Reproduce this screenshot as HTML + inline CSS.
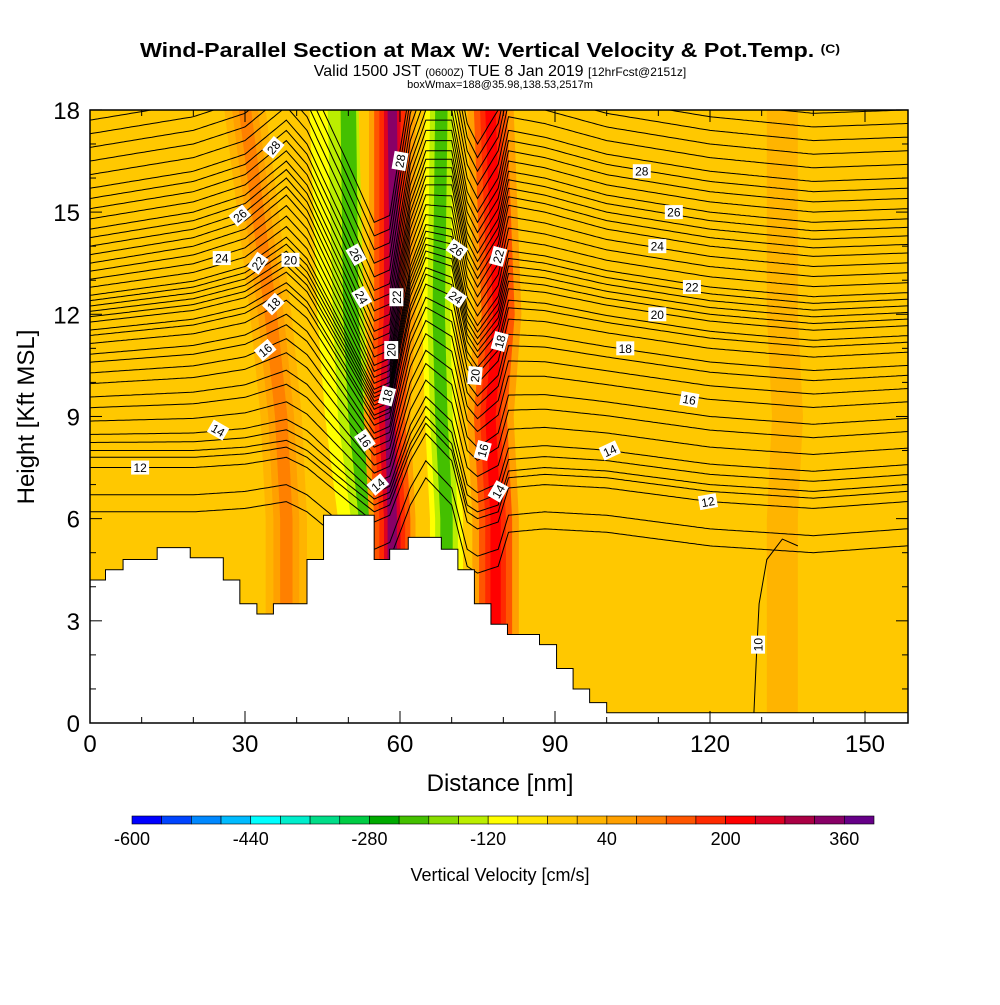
<!DOCTYPE html>
<html><head><meta charset="utf-8"><style>
body{margin:0;background:#fff;}
svg text{font-family:"Liberation Sans",Arial,sans-serif;}
</style></head><body>
<svg id="chart" width="1000" height="1000" viewBox="0 0 1000 1000" xmlns="http://www.w3.org/2000/svg">
<rect width="1000" height="1000" fill="#fff"/>
<text x="490" y="57" text-anchor="middle" font-size="20" font-weight="bold" textLength="700" lengthAdjust="spacingAndGlyphs">Wind-Parallel Section at Max W: Vertical Velocity &amp; Pot.Temp. <tspan font-size="12" dy="-4">(C)</tspan></text>
<text x="500" y="76" text-anchor="middle" font-size="16">Valid 1500 JST <tspan font-size="11">(0600Z)</tspan> TUE 8 Jan 2019 <tspan font-size="12">[12hrFcst@2151z]</tspan></text>
<text x="500" y="88" text-anchor="middle" font-size="11">boxWmax=188@35.98,138.53,2517m</text>
<defs><clipPath id="pc"><rect x="90" y="110" width="818" height="613"/></clipPath></defs>
<g id="plot" clip-path="url(#pc)"></g>
<g id="axes"></g>
<g id="cbar"></g>
<text x="500" y="791" text-anchor="middle" font-size="24">Distance [nm]</text>
<text transform="translate(34,417) rotate(-90)" text-anchor="middle" font-size="24">Height [Kft MSL]</text>
<text x="500" y="881" text-anchor="middle" font-size="18">Vertical Velocity [cm/s]</text>
</svg>
<script>
const NS="http://www.w3.org/2000/svg";
const X=d=>90+d*5.1667, Y=h=>723-h*34.06;
const terrainX=[0,3,6.4,13,19.4,25.8,29,32.3,35.5,42,45.2,55,58,61.6,68,71.2,74.4,77.6,80.8,87,90.3,93.5,96.7,100];
const terrainH=[4.2,4.5,4.8,5.15,4.85,4.2,3.5,3.2,3.5,4.8,6.1,4.8,5.1,5.45,5.1,4.5,3.5,2.9,2.6,2.3,1.6,1.0,0.6,0.3];
const thetaLevels=[11,11.5,12,12.5,13,13.5,14,14.5,15,15.5,16,16.5,17,17.5,18,18.5,19,19.5,20,20.5,21,21.5,22,22.5,23,23.5,24,24.5,25,25.5,26,26.5,27,27.5,28,28.5,29,29.5,30,30.5];
const thetaHeights=[5.2,5.7,6.5,6.8,7.0,7.3,7.6,8.1,8.6,9.0,9.5,9.9,10.3,10.6,11.0,11.3,11.5,11.8,12.0,12.2,12.4,12.6,12.8,13.1,13.4,13.7,14.0,14.25,14.5,14.75,15.0,15.3,15.6,15.9,16.2,16.6,17.0,17.4,17.8,18.2];
const dispX=[0,20,30,38,42,50,55,58,62,65,70,73,75,79,81,88,100,120,140,158];
const dispLow=[1.0,1.0,1.1,1.3,1.0,0.0,-0.6,-0.4,1.2,2.0,1.2,-0.6,-0.8,-0.6,0.4,0.5,0.4,0,-0.2,0];
const dispHigh=[-0.5,0,0.5,1.5,0.8,-1.8,-3.5,-3.3,0.5,1.8,1.8,-0.6,-1.2,-0.2,1.2,1.0,0.5,0,-0.3,-0.2];
const c10X=[128.5,129,129.5,131,134,137];
const c10H=[0.3,2,3.5,4.8,5.4,5.2];
const bandHeights=[18,12,9,6];
const bands=[
 {c:[30,35,37,38],w:4,v:20},{c:[30,35,37,38],w:2.5,v:60},{c:[30,35,37,38],w:1.2,v:100},
 {c:[45,47,49,51],w:6,v:-40},{c:[47,48.5,50,52.5],w:4.5,v:-120},{c:[49,50,51,53.5],w:3,v:-160},{c:[50,50.5,51.5,53.5],w:1.5,v:-240},
 {c:[58.5,58.5,57.5,58.5],w:4.5,v:40},{c:[58.5,58.5,57.5,58.5],w:3.5,v:120},{c:[58.5,58.5,57.5,58.5],w:2.5,v:180},{c:[58.5,58.5,57.5,58.5],w:1.6,v:260},{c:[58.5,59,58,58.5],w:0.9,v:340},
 {c:[68,67.5,68,69],w:4.5,v:-40},{c:[68,67.5,68,69],w:3.2,v:-120},{c:[68,67.5,68,69],w:2.2,v:-160},{c:[68,67.5,68,69],w:1.2,v:-240},
 {c:[77.5,79,77.5,78.5],w:4.5,v:40},{c:[77.5,79,77.5,78.5],w:3.2,v:120},{c:[77.5,79,77.5,78.5],w:2,v:180},{c:[77.5,79,77.5,78.5],w:1,v:220},
 {c:[88,88,88,89],w:3,v:-40},
 {c:[134,134,135,134],w:3,v:20}
];
const cbColors=["#0000ff","#0044ff","#0088ff","#00bbff","#00ffff","#00eecc","#00dd88","#00cc44","#00aa00","#44c000","#88dd00","#bbee00","#ffff00","#ffe600","#ffc800","#ffb400","#ffa000","#ff8000","#ff5500","#ff2a00","#ff0000","#dd0022","#aa0044","#880066","#660088"];
const cbTicks=[-600,-440,-280,-120,40,200,360];
const labelPos=[[35.5,16.9,"28",-50],[29,14.9,"26",-40],[25.5,13.65,"24",0],[32.5,13.5,"22",-55],[38.8,13.6,"20",0],[35.5,12.3,"18",-45],[33.9,10.95,"16",-40],[24.8,8.6,"14",30],[9.7,7.5,"12",0],
[51.5,13.75,"26",60],[52.6,12.5,"24",60],[53.2,8.3,"16",55],[55.7,7.0,"14",-40],[60,16.5,"28",-80],[59.3,12.5,"22",-90],[58.3,10.95,"20",-90],[57.5,9.6,"18",-75],
[71,13.9,"26",35],[70.8,12.5,"24",35],[79,13.7,"22",-75],[79.3,11.2,"18",-75],[74.5,10.2,"20",-85],[76,8.0,"16",-75],[79,6.8,"14",-60],
[106.8,16.2,"28",0],[113,15.0,"26",0],[109.8,14.0,"24",0],[116.5,12.8,"22",0],[109.8,12.0,"20",0],[103.6,11.0,"18",0],[116,9.5,"16",10],[100.6,8.0,"14",-25],[119.6,6.5,"12",-10],[129.3,2.3,"10",-90]];
function mk(t,a,p){const e=document.createElementNS(NS,t);for(const k in a)e.setAttribute(k,a[k]);p.appendChild(e);return e;}
function interp(xs,ys,x){if(x<=xs[0])return ys[0];for(let i=1;i<xs.length;i++){if(x<=xs[i]){const t=(x-xs[i-1])/(xs[i]-xs[i-1]);return ys[i-1]+t*(ys[i]-ys[i-1]);}}return ys[ys.length-1];}
function colorOf(v){let i=Math.floor((v+600)/40);i=Math.max(0,Math.min(24,i));return cbColors[i];}
const plot=document.getElementById('plot');
let bg=mk('rect',{x:90,y:110,width:818,height:613,fill:"#ffc800"},plot);


bands.forEach((b,bi)=>{
 const hs=[19,...bandHeights,0];const cs=[b.c[0],...b.c,b.c[b.c.length-1]];
 let L=[],R=[];hs.forEach((h,i)=>{L.push(X(cs[i]-b.w)+","+Y(h));R.unshift(X(cs[i]+b.w)+","+Y(h));});
 const p=mk('polygon',{points:L.concat(R).join(" "),fill:colorOf(b.v)},plot);
 
 
});
thetaLevels.forEach((th,i)=>{
 const base=thetaHeights[i];let pts=[];
 for(let d=0;d<=158.5;d+=0.5){const w=Math.max(0,Math.min(1,(base-7)/7));const dh=interp(dispX,dispLow,d)*(1-w)+interp(dispX,dispHigh,d)*w;pts.push(X(d).toFixed(1)+","+Y(base+dh).toFixed(1));}
 const pl=mk('polyline',{points:pts.join(" "),fill:"none",stroke:"#000","stroke-width":1},plot);
 
 
});
{const pl=mk('polyline',{points:c10X.map((d,i)=>X(d)+","+Y(c10H[i])).join(" "),fill:"none",stroke:"#000","stroke-width":1},plot);

}
{let pts=[X(0)+","+Y(0)];terrainX.forEach((d,i)=>{const nx=i<terrainX.length-1?terrainX[i+1]:158.5;pts.push(X(d)+","+Y(terrainH[i]));pts.push(X(nx)+","+Y(terrainH[i]));});pts.push(X(158.5)+","+Y(0));
const t=mk('polygon',{points:pts.join(" "),fill:"#fff",stroke:"#000","stroke-width":1},plot);

}
labelPos.forEach(l=>{
 const g=mk('g',{transform:`translate(${X(l[0])},${Y(l[1])}) rotate(${l[3]})`},plot);
 
 
 mk('rect',{x:-9,y:-7,width:18,height:14,fill:"#fff"},g);
 const t=mk('text',{x:0,y:4.5,"text-anchor":"middle","font-size":12},g);t.textContent=l[2];
});
const ax=document.getElementById('axes');
{const f=mk('rect',{x:90,y:110,width:818,height:613,fill:"none",stroke:"#000","stroke-width":1.5},ax);

}
for(let d=0;d<=150;d+=10){const M=d%30===0;mk('line',{x1:X(d),x2:X(d),y1:723,y2:723-(M?12:6),stroke:"#000"},ax);mk('line',{x1:X(d),x2:X(d),y1:110,y2:110+(M?12:6),stroke:"#000"},ax);
 if(M){const t=mk('text',{x:X(d),y:752,"text-anchor":"middle","font-size":24},ax);t.textContent=d;}}
for(let h=0;h<=18;h++){const M=h%3===0;mk('line',{x1:90,x2:90+(M?12:6),y1:Y(h),y2:Y(h),stroke:"#000"},ax);mk('line',{x1:908,x2:908-(M?12:6),y1:Y(h),y2:Y(h),stroke:"#000"},ax);
 if(M){const t=mk('text',{x:80,y:Y(h)+9,"text-anchor":"end","font-size":24},ax);t.textContent=h;}}
const cb=document.getElementById('cbar');const cw=(874-132)/25;
cbColors.forEach((c,i)=>{const r=mk('rect',{x:132+i*cw,y:816,width:cw,height:8,fill:c,stroke:"#000","stroke-width":0.6},cb);

});
cbTicks.forEach(v=>{const t=mk('text',{x:132+(v+600)/40*cw,y:845,"text-anchor":"middle","font-size":18},cb);t.textContent=v;

});
</script>
</body></html>
